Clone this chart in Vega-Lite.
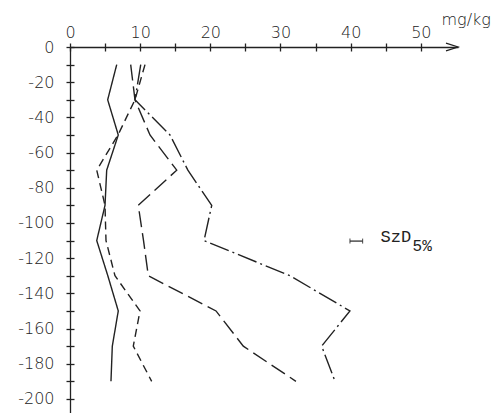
{
  "$schema": "https://vega.github.io/schema/vega-lite/v6.json",
  "width": 388,
  "height": 366,
  "autosize": "none",
  "padding": {"left": 70, "top": 47, "right": 45, "bottom": 0},
  "background": "white",
  "config": {
    "view": {"stroke": null},
    "axis": {"labelFont": "DejaVu Sans", "titleFont": "DejaVu Sans", "labelColor": "#222", "titleColor": "#222", "domainColor": "#222", "tickColor": "#222", "grid": false, "domainWidth": 1.3, "tickWidth": 1.3}
  },
  "datasets": {
    "profiles": [
      {"series": "A", "depth": -10, "value": 6.66},
      {"series": "A", "depth": -30, "value": 5.37},
      {"series": "A", "depth": -50, "value": 6.88},
      {"series": "A", "depth": -70, "value": 5.23},
      {"series": "A", "depth": -90, "value": 4.99},
      {"series": "A", "depth": -110, "value": 3.81},
      {"series": "A", "depth": -130, "value": 5.39},
      {"series": "A", "depth": -150, "value": 6.88},
      {"series": "A", "depth": -170, "value": 6.03},
      {"series": "A", "depth": -190, "value": 5.84},
      {"series": "B", "depth": -10, "value": 10.69},
      {"series": "B", "depth": -30, "value": 9.26},
      {"series": "B", "depth": -50, "value": 6.84},
      {"series": "B", "depth": -70, "value": 3.81},
      {"series": "B", "depth": -90, "value": 4.99},
      {"series": "B", "depth": -110, "value": 5.13},
      {"series": "B", "depth": -130, "value": 6.41},
      {"series": "B", "depth": -150, "value": 9.98},
      {"series": "B", "depth": -170, "value": 9.02},
      {"series": "B", "depth": -190, "value": 11.64},
      {"series": "C", "depth": -10, "value": 8.65},
      {"series": "C", "depth": -30, "value": 9.26},
      {"series": "C", "depth": -50, "value": 11.4},
      {"series": "C", "depth": -70, "value": 15.21},
      {"series": "C", "depth": -90, "value": 9.73},
      {"series": "C", "depth": -110, "value": 10.48},
      {"series": "C", "depth": -130, "value": 11.16},
      {"series": "C", "depth": -150, "value": 20.81},
      {"series": "C", "depth": -170, "value": 24.7},
      {"series": "C", "depth": -190, "value": 32.2},
      {"series": "D", "depth": -10, "value": 10.08},
      {"series": "D", "depth": -30, "value": 9.26},
      {"series": "D", "depth": -50, "value": 14.25},
      {"series": "D", "depth": -70, "value": 16.8},
      {"series": "D", "depth": -90, "value": 20.2},
      {"series": "D", "depth": -110, "value": 19.1},
      {"series": "D", "depth": -130, "value": 31.36},
      {"series": "D", "depth": -150, "value": 39.9},
      {"series": "D", "depth": -170, "value": 35.87},
      {"series": "D", "depth": -190, "value": 37.77}
    ],
    "lsd": [{"label": "SzD", "sub": "5%", "lo": 39.9, "hi": 41.7, "depth": -110.3}],
    "arrow": [{"x": 55.3, "depth": 0}]
  },
  "resolve": {"axis": {"x": "independent", "y": "independent"}},
  "layer": [
    {
      "data": {"name": "profiles"},
      "mark": {"type": "line", "strokeWidth": 1.4, "color": "#222"},
      "encoding": {
        "x": {
          "field": "value", "type": "quantitative",
          "scale": {"domain": [0, 55.3], "nice": false, "zero": false},
          "axis": {"orient": "top", "values": [0, 5, 10, 15, 20, 25, 30, 35, 40, 45, 50], "labelExpr": "datum.value % 10 === 0 ? datum.label : ''", "tickSize": 4, "labelPadding": 3, "labelFontSize": 16, "labelFontWeight": 200, "labelAngle": 0, "labelFlush": false, "labelOverlap": false, "title": "mg/kg", "titleX": 371, "titleY": -23, "titleAlign": "left", "titleBaseline": "alphabetic", "titleFontSize": 16, "titleFontWeight": 200, "titleAngle": 0, "titleLimit": 1000}
        },
        "y": {
          "field": "depth", "type": "quantitative",
          "scale": {"domain": [-208, 0], "nice": false, "zero": false},
          "axis": {"orient": "left", "values": [0, -10, -20, -30, -40, -50, -60, -70, -80, -90, -100, -110, -120, -130, -140, -150, -160, -170, -180, -190, -200], "labelExpr": "datum.value % 20 === 0 ? (datum.value < 0 ? '-' + format(-datum.value, 'd') : '0') : ''", "tickSize": 4, "labelPadding": 12, "labelFontSize": 16, "labelFontWeight": 200, "labelFlush": false, "labelOverlap": false, "title": null}
        },
        "strokeDash": {"field": "series", "type": "nominal", "scale": {"domain": ["A", "B", "C", "D"], "range": [[1, 0], [8, 5], [16, 6], [20, 4, 2, 4]]}, "legend": null},
        "order": {"field": "depth", "sort": "descending"}
      }
    },
    {
      "data": {"name": "lsd"},
      "mark": {"type": "rule", "strokeWidth": 1.2, "color": "#222"},
      "encoding": {
        "x": {"field": "lo", "type": "quantitative", "axis": null},
        "x2": {"field": "hi"},
        "y": {"field": "depth", "type": "quantitative", "axis": null}
      }
    },
    {
      "data": {"name": "lsd"},
      "transform": [{"fold": ["lo", "hi"], "as": ["end", "xv"]}],
      "mark": {"type": "tick", "orient": "vertical", "size": 5, "thickness": 1.2, "color": "#222"},
      "encoding": {
        "x": {"field": "xv", "type": "quantitative", "axis": null},
        "y": {"field": "depth", "type": "quantitative", "axis": null}
      }
    },
    {
      "data": {"name": "lsd"},
      "mark": {"type": "text", "align": "left", "baseline": "alphabetic", "font": "Liberation Mono", "fontSize": 17, "dx": 18, "dy": 1, "color": "#222"},
      "encoding": {
        "x": {"field": "hi", "type": "quantitative", "axis": null},
        "y": {"field": "depth", "type": "quantitative", "axis": null},
        "text": {"field": "label"}
      }
    },
    {
      "data": {"name": "lsd"},
      "mark": {"type": "text", "align": "left", "baseline": "alphabetic", "font": "Liberation Mono", "fontSize": 16, "dx": 50, "dy": 10, "color": "#222"},
      "encoding": {
        "x": {"field": "hi", "type": "quantitative", "axis": null},
        "y": {"field": "depth", "type": "quantitative", "axis": null},
        "text": {"field": "sub"}
      }
    },
    {
      "data": {"name": "arrow"},
      "mark": {"type": "point", "shape": "M -1 -0.33 L 0 0 L -1 0.33", "size": 576, "filled": false, "strokeWidth": 1.3, "color": "#222", "opacity": 1},
      "encoding": {
        "x": {"field": "x", "type": "quantitative", "axis": {"orient": "top", "offset": -4, "values": [0, 5, 10, 15, 20, 25, 30, 35, 40, 45, 50], "tickSize": 4, "labels": false, "domain": false, "title": null}},
        "y": {"field": "depth", "type": "quantitative", "axis": {"orient": "left", "offset": -4, "values": [0, -10, -20, -30, -40, -50, -60, -70, -80, -90, -100, -110, -120, -130, -140, -150, -160, -170, -180, -190, -200], "tickSize": 4, "labels": false, "domain": false, "title": null}}
      }
    }
  ]
}
